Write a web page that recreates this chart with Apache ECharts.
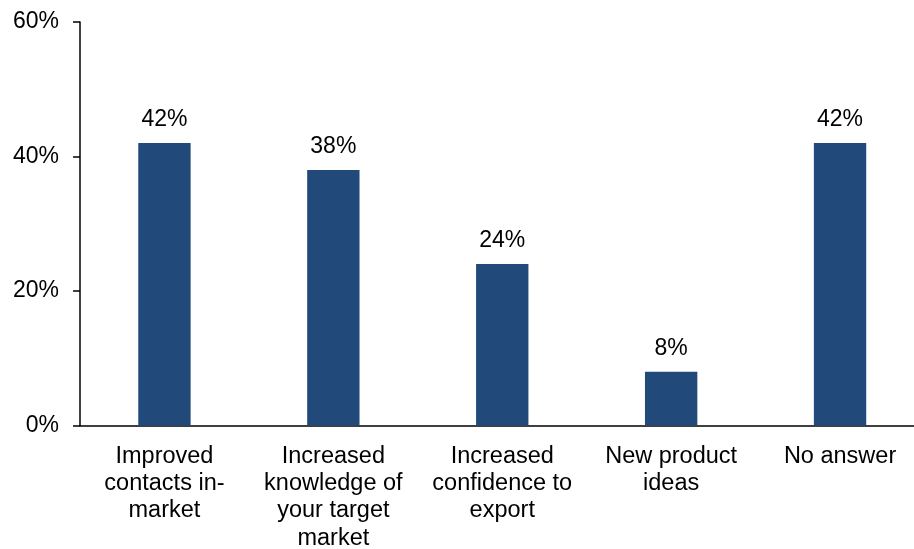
<!DOCTYPE html>
<html>
<head>
<meta charset="utf-8">
<script src="https://cdn.jsdelivr.net/npm/echarts@6/dist/echarts.min.js"></script>
<style>
  html, body { margin: 0; padding: 0; background: #fff; }
  #chart { width: 914px; height: 549px; }
</style>
</head>
<body>
<div id="chart"></div>
<script>
// Survey outcomes, share of respondents
const categories = [
  'Improved\ncontacts in-\nmarket',
  'Increased\nknowledge of\nyour target\nmarket',
  'Increased\nconfidence to\nexport',
  'New product\nideas',
  'No answer'
];
const shares = [42, 38, 24, 8, 42];
const yTicks = { min: 0, max: 60, interval: 20 };

const FONT = 'Liberation Sans, Arial, sans-serif';
const chart = echarts.init(document.getElementById('chart'));
chart.setOption({
  animation: false,
  backgroundColor: '#ffffff',
  // plot area runs slightly past the right edge of the canvas
  grid: {
    left: 80, top: 22, height: 403.5, width: 844.5,
    containLabel: false, outerBoundsMode: 'none'
  },
  xAxis: {
    type: 'category',
    data: categories,
    axisLine: { lineStyle: { color: '#000', width: 1.5 } },
    axisTick: { show: false },
    axisLabel: {
      interval: 0,
      color: '#000',
      fontFamily: FONT,
      fontSize: 23.5,
      lineHeight: 27.3,
      margin: 17
    }
  },
  yAxis: {
    type: 'value',
    min: yTicks.min,
    max: yTicks.max,
    interval: yTicks.interval,
    splitLine: { show: false },
    axisLine: { show: true, lineStyle: { color: '#000', width: 1.5 } },
    axisTick: { show: true, length: 7, lineStyle: { color: '#000', width: 1.5 } },
    axisLabel: {
      color: '#000',
      fontFamily: FONT,
      fontSize: 23,
      margin: 21,
      formatter: v => v + '%'
    }
  },
  series: [{
    type: 'bar',
    data: shares,
    barWidth: '31%',
    itemStyle: { color: '#214a7b' },
    label: {
      show: true,
      position: 'top',
      distance: 12,
      color: '#000',
      fontFamily: FONT,
      fontSize: 23,
      formatter: p => p.value + '%'
    }
  }]
});
</script>
</body>
</html>
